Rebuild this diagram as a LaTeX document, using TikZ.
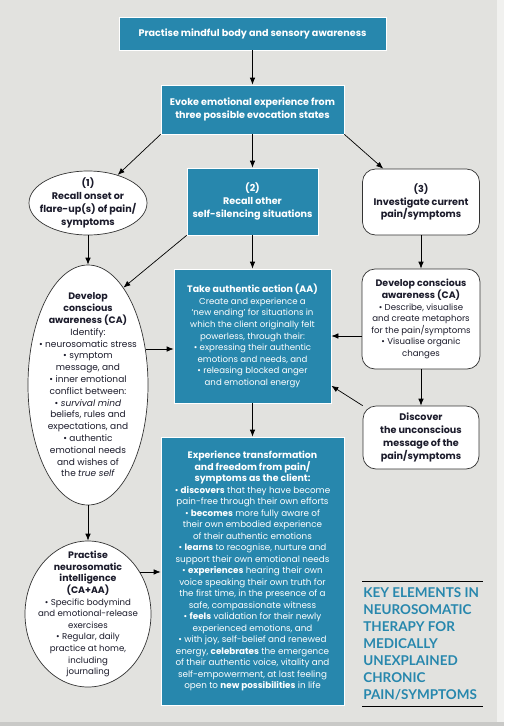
\documentclass[tikz,border=0pt]{standalone}
\usepackage{fontspec}
\setmainfont{Poppins}
\newfontfamily\titlefont{Lato}
\usepackage{xcolor}
\usetikzlibrary{shapes.geometric, arrows.meta}
\definecolor{FontColor}{HTML}{1B1B2B}
\definecolor{TealNC}{HTML}{2787AD}
\definecolor{EdgeNC}{HTML}{333333}
\definecolor{BackNC}{HTML}{E2E2DF}
\definecolor{BackLight}{HTML}{F1F1EF}
\definecolor{BackDark}{HTML}{C9C9C7}
\newcommand\hd[1]{{\fontsize{9.4}{11.6}\selectfont\bfseries #1}}
\newcommand\nodepm{Practise mindful body and sensory awareness}
\newcommand\nodeev{Evoke emotional experience from\\three possible evocation states}
\newcommand\nodeonset{(1)\\Recall onset or\\flare-up(s) of pain/\\symptoms}
\newcommand\nodesilence{(2)\\Recall other\\self-silencing situations}
\newcommand\nodeinv{(3)\\Investigate current\\pain/symptoms}
\newcommand\nodeca{\hd{Develop}\\\hd{conscious}\\\hd{awareness (CA)}\\Identify:\\• neurosomatic stress\\• symptom\\message, and\\• inner emotional\\conflict between:\\• \emph{survival mind}\\beliefs, rules and\\expectations, and\\• authentic\\emotional needs\\and wishes of\\the \emph{true self}}
\newcommand\nodeaa{\hd{Take authentic action (AA)}\\Create and experience a\\‘new ending’ for situations in\\which the client originally felt\\powerless, through their:\\• expressing their authentic\\emotions and needs, and\\• releasing blocked anger\\and emotional energy}
\newcommand\nodecar{\hd{Develop conscious}\\\hd{awareness (CA)}\\• Describe, visualise\\and create metaphors\\for the pain/symptoms\\• Visualise organic\\changes}
\newcommand\nodedis{Discover\\the unconscious\\message of the\\pain/symptoms}
\newcommand\nodeex{\hd{Experience transformation}\\\hd{and freedom from pain/}\\\hd{symptoms as the client:}\\• \textbf{discovers} that they have become\\pain-free through their own efforts\\• \textbf{becomes} more fully aware of\\their own embodied experience\\of their authentic emotions\\• \textbf{learns} to recognise, nurture and\\support their own emotional needs\\• \textbf{experiences} hearing their own\\voice speaking their own truth for\\the first time, in the presence of a\\safe, compassionate witness\\• \textbf{feels} validation for their newly\\experienced emotions, and\\• with joy, self-belief and renewed\\energy, \textbf{celebrates} the emergence\\of their authentic voice, vitality and\\self-empowerment, at last feeling\\open to \textbf{new possibilities} in life}
\newcommand\nodepni{\hd{Practise}\\\hd{neurosomatic}\\\hd{intelligence}\\\hd{(CA+AA)}\\• Specific bodymind\\and emotional-release\\exercises\\• Regular, daily\\practice at home,\\including\\journaling}
\newcommand\nodetitle{KEY ELEMENTS IN\\NEUROSOMATIC\\THERAPY FOR\\MEDICALLY\\UNEXPLAINED\\CHRONIC\\PAIN/SYMPTOMS}
\tikzstyle{mynodestyle} = [align=center, inner sep=0pt, font=\fontsize{8.6}{11.6}\selectfont]
\tikzstyle{headstyle} = [font=\fontsize{9.6}{12.8}\selectfont\bfseries]
\tikzstyle{tn} = [mynodestyle, rectangle, draw=white, fill=TealNC, text=white]
\tikzstyle{wn} = [mynodestyle, rectangle, rounded corners=13pt, draw=EdgeNC, fill=white, text=FontColor]
\tikzstyle{en} = [mynodestyle, ellipse, inner sep=-45pt, draw=EdgeNC, fill=white, text=FontColor]
\tikzstyle{titlen} = [anchor=north west, align=left, inner sep=0pt, text=TealNC, font=\titlefont\fontsize{13.5}{17}\selectfont\bfseries]
\tikzset{>={Latex[length=7pt,width=5.5pt]}, every picture/.style={line width=0.7pt, x=1pt, y=-1pt}}

\begin{document}
\begin{tikzpicture}
\fill[BackNC] (0,0) rectangle (504,726);
\fill[BackLight] (497,0) rectangle (504,722);
\fill[BackDark] (0,722) rectangle (504,726);
\node[tn, headstyle, minimum width=267pt, minimum height=33pt] (pm) at (252.5, 33.5) {\nodepm};
\node[tn, headstyle, minimum width=183pt, minimum height=49pt] (ev) at (252.5, 109.5) {\nodeev};
\node[en, headstyle, minimum width=118pt, minimum height=64pt] (onset) at (88, 203) {\nodeonset};
\node[tn, headstyle, minimum width=131pt, minimum height=67pt] (silence) at (252.5, 201.5) {\nodesilence};
\node[wn, headstyle, minimum width=117pt, minimum height=66pt] (inv) at (421, 202) {\nodeinv};
\node[en, minimum width=120pt, minimum height=240pt, font=\fontsize{9}{11.8}\selectfont] (ca) at (88, 385) {\nodeca};
\node[tn, minimum width=157pt, minimum height=134pt] (aa) at (252.5, 336) {\nodeaa};
\node[wn, minimum width=118pt, minimum height=100pt] (car) at (421, 319) {\nodecar};
\node[wn, headstyle, minimum width=116pt, minimum height=63pt] (dis) at (421, 437.5) {\nodedis};
\node[tn, minimum width=183pt, minimum height=268pt, font=\fontsize{8.8}{11.5}\selectfont] (ex) at (252.5, 571) {\nodeex};
\node[en, minimum width=126pt, minimum height=146pt] (pni) at (88, 614) {\nodepni};
\node[titlen] (title) at (363, 587) {\nodetitle};
\draw (362, 581) -- (483, 581);
\draw (362, 706) -- (483, 706);
\draw [->] (pm) -- (ev);
\draw [->] (ev.south west) -- (onset);
\draw [->] (ev) -- (silence);
\draw [->] (ev.south east) -- (inv);
\draw [->] (onset) -- (ca);
\draw [->] (silence.south west) -- (ca.70);
\draw [->] (silence) -- (aa);
\draw [->] (inv) -- (car);
\draw [->] (ca.32) -- (ca.32 -| aa.west);
\draw [->] (car.west |- aa.east) -- (aa.east);
\draw [->] (car) -- (dis);
\draw [->] (dis.north west) -- (aa);
\draw [->] (aa) -- (ex);
\draw [->] (ca) -- (pni);
\draw [->] (pni.39) -- (pni.39 -| ex.west);
\end{tikzpicture}
\end{document}
